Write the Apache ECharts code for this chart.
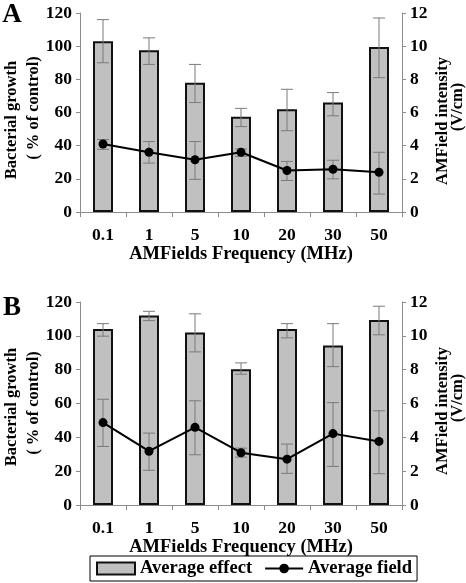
<!DOCTYPE html>
<html>
<head>
<meta charset="utf-8">
<script src="https://cdn.jsdelivr.net/npm/echarts@6/dist/echarts.min.js"></script>
<style>
html,body{margin:0;padding:0;background:#fff;}
#chart{width:466px;height:583px;}
</style>
</head>
<body>
<div id="chart"></div>
<script>
var categories = ['0.1', '1', '5', '10', '20', '30', '50'];
var leftTicks = [0, 20, 40, 60, 80, 100, 120];
var rightTicks = [0, 2, 4, 6, 8, 10, 12];

// Panel A
var effectA    = [103, 97.5, 78, 57.5, 62, 66, 99.5];
var effectAHi  = [116, 105, 89, 62.5, 74, 72, 117];
var effectALo  = [90, 89, 66, 51.5, 49, 58, 81];
var fieldA     = [4.1, 3.6, 3.15, 3.6, 2.5, 2.58, 2.4];
var fieldAHi   = [4.37, 4.25, 4.25, 3.8, 3.05, 3.12, 3.6];
var fieldALo   = [3.78, 2.95, 1.97, 3.35, 1.9, 2.0, 1.08];

// Panel B
var effectB    = [104, 112, 102, 80.3, 104, 94.3, 109.3];
var effectBHi  = [107.2, 114.5, 113, 84, 107.2, 107.2, 117.5];
var effectBLo  = [99.8, 109, 90.5, 77.3, 98.8, 81.8, 100.6];
var fieldB     = [4.87, 3.18, 4.59, 3.09, 2.71, 4.22, 3.76];
var fieldBHi   = [6.25, 4.25, 6.16, 3.36, 3.6, 6.05, 5.57];
var fieldBLo   = [3.46, 2.05, 2.97, 2.83, 1.87, 2.28, 1.85];

var FONT = "'Liberation Serif', 'Times New Roman', serif";
var AXIS_GRAY = '#8c8c8c';
var ERR_GRAY = '#7a7a7a';

function errData(lo, hi) {
  return categories.map(function (c, i) { return [i, lo[i], hi[i]]; });
}
function errRender(params, api) {
  var x = api.value(0);
  var p1 = api.coord([x, api.value(1)]);
  var p2 = api.coord([x, api.value(2)]);
  var w = 6;
  var style = { stroke: ERR_GRAY, lineWidth: 1 };
  return {
    type: 'group',
    children: [
      { type: 'line', shape: { x1: p1[0], y1: p1[1], x2: p2[0], y2: p2[1] }, style: style },
      { type: 'line', shape: { x1: p1[0] - w, y1: p1[1], x2: p1[0] + w, y2: p1[1] }, style: style },
      { type: 'line', shape: { x1: p2[0] - w, y1: p2[1], x2: p2[0] + w, y2: p2[1] }, style: style }
    ]
  };
}

var labelStyle = { fontFamily: FONT, fontWeight: 'bold', fontSize: 17.5, color: '#000' };

function xAxisDef(gridIndex, nameGap) {
  return {
    type: 'category', gridIndex: gridIndex, data: categories,
    boundaryGap: true,
    axisLine: { lineStyle: { color: AXIS_GRAY, width: 1 } },
    axisTick: { show: true, length: 5, lineStyle: { color: AXIS_GRAY } },
    axisLabel: Object.assign({ margin: 14 }, labelStyle),
    name: 'AMFields Frequency (MHz)', nameLocation: 'middle', nameGap: nameGap,
    nameTextStyle: { fontFamily: FONT, fontWeight: 'bold', fontSize: 18.5, color: '#000' }
  };
}
function yAxisDef(gridIndex, isRight) {
  var ticks = isRight ? rightTicks : leftTicks;
  return {
    type: 'value', gridIndex: gridIndex, position: isRight ? 'right' : 'left',
    min: ticks[0], max: ticks[ticks.length - 1], interval: ticks[1] - ticks[0],
    axisLine: { show: true, lineStyle: { color: AXIS_GRAY, width: 1 } },
    axisTick: { show: true, length: 4, lineStyle: { color: AXIS_GRAY } },
    axisLabel: Object.assign({ margin: 8 }, labelStyle),
    splitLine: { show: false }
  };
}

function panelSeries(gridIdx, eff, effLo, effHi, fld, fldLo, fldHi) {
  var xi = gridIdx, yl = gridIdx * 2, yr = gridIdx * 2 + 1;
  return [
    {
      name: 'Average effect', type: 'bar', xAxisIndex: xi, yAxisIndex: yl,
      data: eff, barWidth: 20, z: 2,
      itemStyle: { color: '#c0c0c0', borderColor: '#111', borderWidth: 2 }
    },
    {
      type: 'custom', xAxisIndex: xi, yAxisIndex: yl, z: 3,
      renderItem: errRender, data: errData(effLo, effHi), silent: true
    },
    {
      type: 'custom', xAxisIndex: xi, yAxisIndex: yr, z: 4,
      renderItem: errRender, data: errData(fldLo, fldHi), silent: true
    },
    {
      name: 'Average field', type: 'line', xAxisIndex: xi, yAxisIndex: yr,
      data: fld, z: 5, symbol: 'circle', symbolSize: 9,
      lineStyle: { color: '#000', width: 2 },
      itemStyle: { color: '#000' }
    }
  ];
}

function vText(text, x, y, size) {
  return {
    type: 'text', x: x, y: y, rotation: Math.PI / 2,
    style: { text: text, fontFamily: FONT, fontWeight: 'bold', fontSize: size || 16.5,
      fill: '#000', align: 'center', verticalAlign: 'middle' }
  };
}
function hText(text, x, y, size) {
  return {
    type: 'text', x: x, y: y,
    style: { text: text, fontFamily: FONT, fontWeight: 'bold', fontSize: size,
      fill: '#000', align: 'center', verticalAlign: 'middle' }
  };
}

var chart = echarts.init(document.getElementById('chart'), null, { renderer: 'canvas' });
chart.setOption({
  backgroundColor: '#fff',
  animation: false,
  textStyle: { fontFamily: FONT },
  grid: [
    { left: 80, right: 64, top: 13, height: 199 },
    { left: 80, right: 64, top: 302, height: 203 }
  ],
  xAxis: [xAxisDef(0, 30), xAxisDef(1, 29)],
  yAxis: [yAxisDef(0, false), yAxisDef(0, true), yAxisDef(1, false), yAxisDef(1, true)],
  legend: {
    data: [
      { name: 'Average effect', icon: 'rect' },
      { name: 'Average field' }
    ],
    left: 90, top: 556, itemWidth: 38, itemHeight: 12, itemGap: 12,
    padding: [3, 5, 3, 6],
    borderColor: '#000', borderWidth: 1,
    textStyle: { fontFamily: FONT, fontWeight: 'bold', fontSize: 18.5, color: '#000' }
  },
  graphic: [
    hText('A', 12, 15, 27),
    hText('B', 12, 308, 27),
    vText('Bacterial growth', 12, 120),
    vText('( % of control)', 34, 108),
    vText('AMField intensity', 443, 121),
    vText('(V/cm)', 458, 107),
    vText('Bacterial growth', 12, 407),
    vText('( % of control)', 34, 403),
    vText('AMField intensity', 443, 411),
    vText('(V/cm)', 458, 398)
  ],
  series: [].concat(
    panelSeries(0, effectA, effectALo, effectAHi, fieldA, fieldALo, fieldAHi),
    panelSeries(1, effectB, effectBLo, effectBHi, fieldB, fieldBLo, fieldBHi)
  )
});
</script>
</body>
</html>
